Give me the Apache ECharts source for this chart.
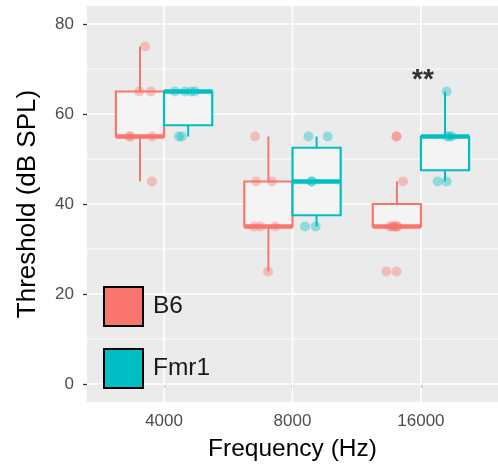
<!DOCTYPE html>
<html>
<head>
<meta charset="utf-8">
<script src="https://cdn.jsdelivr.net/npm/echarts@6/dist/echarts.min.js"></script>
<style>html,body{margin:0;padding:0;background:#fff}#c{width:498px;height:473px}</style>
</head>
<body>
<div id="c"></div>
<script>
// ---- data ----
const categories = ['4000', '8000', '16000'];
const groups = ['B6', 'Fmr1'];
const colors = ['#F8766D', '#00BFC4'];
const yTicks = [0, 20, 40, 60, 80];
const yMinor = [10, 30, 50, 70];
// box statistics per category: [min, q1, median, q3, max]
const b6Box = [[45, 55, 55, 65, 75], [25, 35, 35, 45, 55], [35, 35, 35, 40, 45]];
const fmr1Box = [[55, 57.5, 65, 65, 65], [35, 37.5, 45, 52.5, 55], [45, 47.5, 55, 55, 65]];
// jittered points per category: [x offset from category centre, threshold]
const b6Points = [
  [[-0.147, 75], [-0.193, 65], [-0.103, 65], [-0.27, 55], [-0.262, 55], [-0.093, 55], [-0.095, 45]],
  [[-0.292, 55], [-0.284, 45], [-0.16, 45], [-0.3, 35], [-0.25, 35], [-0.135, 35], [-0.19, 25]],
  [[-0.19, 55], [-0.19, 55], [-0.14, 45], [-0.24, 35], [-0.225, 35], [-0.21, 35], [-0.2, 35], [-0.19, 35], [-0.18, 35], [-0.27, 25], [-0.19, 25]]
];
const fmr1Points = [
  [[0.085, 65], [0.162, 65], [0.21, 65], [0.24, 65], [0.116, 55], [0.139, 55]],
  [[0.125, 55], [0.274, 55], [0.148, 45], [0.15, 45], [0.097, 35], [0.18, 35]],
  [[0.2, 65], [0.205, 55], [0.24, 55], [0.222, 55], [0.13, 45], [0.2, 45]]
];
const annotations = [{ category: 2, value: 67.6, text: '**' }];

// ---- build ----
const dodge = 0.1875, halfBox = 0.1875;
const boxData = [];
[b6Box, fmr1Box].forEach((boxes, g) => {
  boxes.forEach((s, i) => {
    boxData.push({ value: [i + 1 + (g === 0 ? -dodge : dodge)].concat(s), g: g });
  });
});
function pts(arr) {
  const out = [];
  arr.forEach((list, i) => list.forEach(p => out.push([i + 1 + p[0], p[1]])));
  return out;
}

const chart = echarts.init(document.getElementById('c'), null, { renderer: 'canvas' });
chart.setOption({
  animation: false,
  backgroundColor: '#ffffff',
  grid: { left: 87, top: 6, width: 414.4, height: 396, show: true, backgroundColor: '#EBEBEB', borderWidth: 0 },
  xAxis: {
    type: 'value', min: 0.4, max: 3.6,
    name: 'Frequency (Hz)', nameLocation: 'middle', nameGap: 35,
    nameTextStyle: { fontSize: 24.5, color: '#000', fontFamily: 'Liberation Sans' },
    axisLine: { show: false },
    axisTick: { show: true, customValues: [1, 2, 3], length: 4, lineStyle: { color: '#333', width: 1.3 } },
    axisLabel: { customValues: [1, 2, 3], formatter: v => categories[Math.round(v) - 1] || '', fontSize: 17, color: '#4D4D4D', margin: 11, fontFamily: 'Liberation Sans' },
    splitLine: { show: false }
  },
  yAxis: {
    type: 'value', min: -4, max: 84,
    name: 'Threshold (dB SPL)', nameLocation: 'middle', nameGap: 46,
    nameTextStyle: { fontSize: 26, color: '#000', fontFamily: 'Liberation Sans' },
    axisLine: { show: false },
    axisTick: { show: true, customValues: yTicks, length: 4, lineStyle: { color: '#333', width: 1.3 } },
    axisLabel: { customValues: yTicks, fontSize: 17, color: '#4D4D4D', margin: 13, fontFamily: 'Liberation Sans' },
    splitLine: { show: false }
  },
  legend: {
    orient: 'vertical', left: 103, top: 286, padding: 0, itemWidth: 39, itemHeight: 39, itemGap: 21,
    icon: 'rect', selectedMode: false,
    textStyle: { fontSize: 24.5, color: '#1A1A1A', fontFamily: 'Liberation Sans', padding: [0, 0, 0, 5] },
    data: groups.map((g, i) => ({ name: g, icon: 'rect', itemStyle: { color: colors[i], borderColor: '#000', borderWidth: 2, opacity: 1 } }))
  },
  series: [
    {
      type: 'custom', silent: true, z: 1,
      data: [[0]],
      renderItem: (params, api) => {
        const ch = [];
        const x0 = 0.4, x1 = 3.6, y0 = -4, y1 = 84;
        yMinor.forEach(v => {
          const a = api.coord([x0, v]), b = api.coord([x1, v]);
          ch.push({ type: 'line', shape: { x1: a[0], y1: a[1], x2: b[0], y2: b[1] }, style: { stroke: '#fff', lineWidth: 0.8 } });
        });
        yTicks.forEach(v => {
          const a = api.coord([x0, v]), b = api.coord([x1, v]);
          ch.push({ type: 'line', shape: { x1: a[0], y1: a[1], x2: b[0], y2: b[1] }, style: { stroke: '#fff', lineWidth: 1.6 } });
        });
        categories.forEach((c, i) => {
          const a = api.coord([i + 1, y0]), b = api.coord([i + 1, y1]);
          ch.push({ type: 'line', shape: { x1: a[0], y1: a[1], x2: b[0], y2: b[1] }, style: { stroke: '#fff', lineWidth: 1.6 } });
        });
        return { type: 'group', children: ch };
      }
    },
    {
      type: 'custom', silent: true, z: 2,
      data: boxData,
      renderItem: (params, api) => {
        const item = boxData[params.dataIndex];
        const col = colors[item.g];
        const [xc, mn, q1, md, q3, mx] = item.value;
        const l = api.coord([xc - halfBox, q3]), r = api.coord([xc + halfBox, q1]);
        const c = api.coord([xc, md]);
        const top = api.coord([xc, mx]), bot = api.coord([xc, mn]);
        const qt = api.coord([xc, q3]), qb = api.coord([xc, q1]);
        const ch = [
          { type: 'line', shape: { x1: c[0], y1: qt[1], x2: c[0], y2: top[1] }, style: { stroke: col, lineWidth: 2 } },
          { type: 'line', shape: { x1: c[0], y1: qb[1], x2: c[0], y2: bot[1] }, style: { stroke: col, lineWidth: 2 } },
          { type: 'rect', shape: { x: l[0], y: l[1], width: r[0] - l[0], height: r[1] - l[1] }, style: { fill: '#F4F4F4', stroke: col, lineWidth: 2.2 } },
          { type: 'line', shape: { x1: l[0], y1: c[1], x2: r[0], y2: c[1] }, style: { stroke: col, lineWidth: 4.4 } }
        ];
        return { type: 'group', children: ch };
      }
    },
    {
      name: 'B6', type: 'scatter', z: 3, symbol: 'circle', symbolSize: 10,
      itemStyle: { color: colors[0], opacity: 0.38 },
      data: pts(b6Points)
    },
    {
      name: 'Fmr1', type: 'scatter', z: 3, symbol: 'circle', symbolSize: 10,
      itemStyle: { color: colors[1], opacity: 0.38 },
      data: pts(fmr1Points)
    },
    {
      type: 'scatter', z: 4, symbolSize: 0, silent: true,
      data: annotations.map(a => [a.category + 1, a.value]),
      label: { show: true, position: 'inside', offset: [2, 0], formatter: p => annotations[p.dataIndex].text, fontSize: 28, fontWeight: 'bold', color: '#000', fontFamily: 'Liberation Sans' }
    }
  ]
});
</script>
</body>
</html>
